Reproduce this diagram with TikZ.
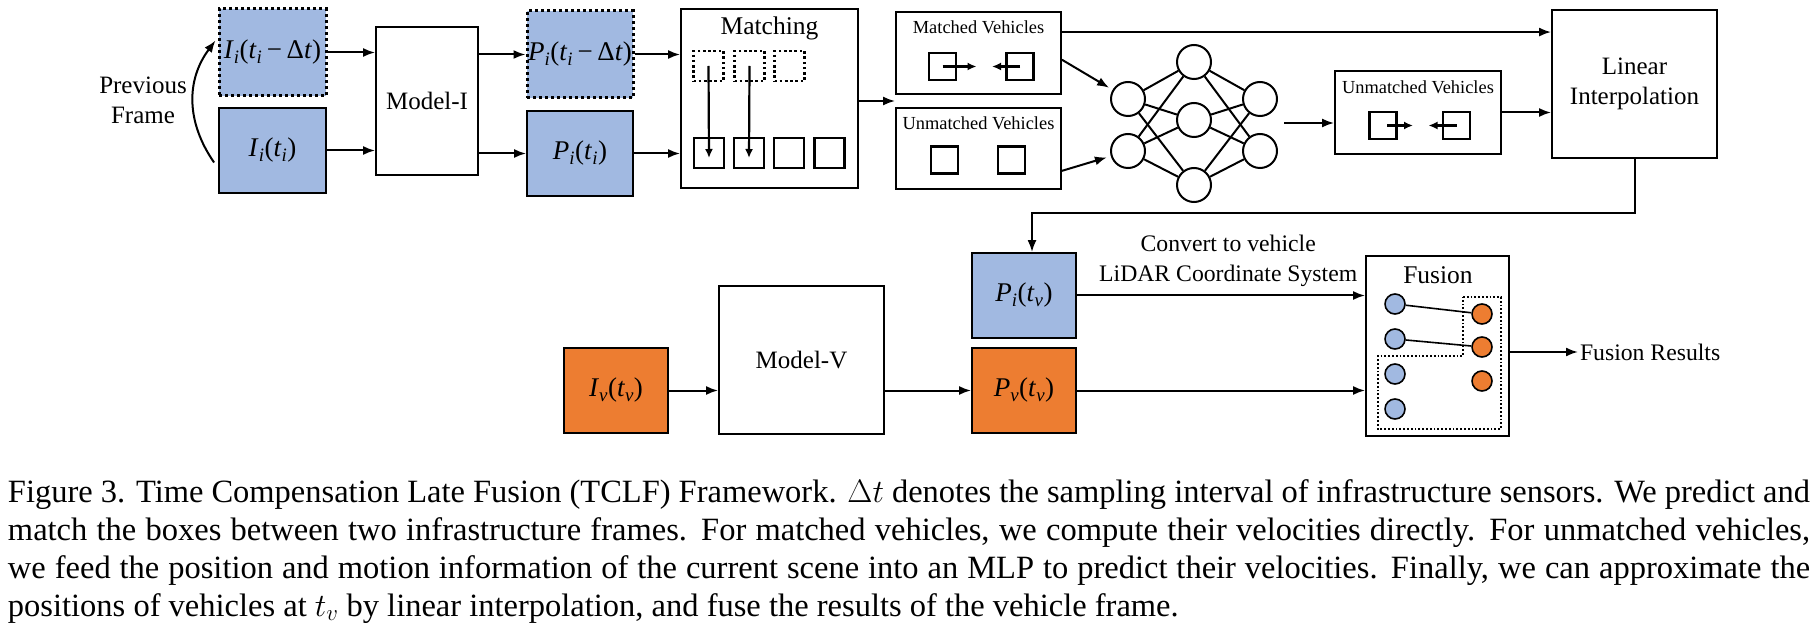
\documentclass[tikz,border=0pt]{standalone}
\usepackage{fix-cm}
\usepackage[no-math]{fontspec}
\setmainfont{Liberation Serif}
\usepackage{tikz}
\usetikzlibrary{positioning,arrows.meta,calc}
\usepackage{xcolor}
\definecolor{infblue}{RGB}{161,185,225}
\definecolor{vehorange}{RGB}{237,125,49}

\newcommand{\sub}[2]{\textit{#1}\textsubscript{\textit{#2}}}

\begin{document}
\begin{tikzpicture}[x=1pt,y=-1pt,line width=2pt,
		>={Latex[length=12pt,width=9pt]},
		box/.style={draw,line width=1.8pt,inner sep=0pt,align=center,font=\fontsize{25}{30}\selectfont},
		iblue/.style={box,fill=infblue,font=\fontsize{27}{30}\selectfont},
		vorange/.style={box,fill=vehorange,font=\fontsize{27}{30}\selectfont},
		prev/.style={line width=3pt,dash pattern=on 3pt off 3pt},
		title/.style={font=\fontsize{18.4}{22}\selectfont},
		bigtitle/.style={font=\fontsize{25.5}{30}\selectfont},
		obj/.style={draw,line width=2.5pt,minimum size=27pt,inner sep=0pt},
		ghost/.style={obj,dash pattern=on 2.6pt off 2.6pt},
		neuron/.style={circle,draw,line width=2pt,minimum size=34pt,inner sep=0pt},
		ipt/.style={circle,draw,line width=1.6pt,minimum size=20pt,inner sep=0pt,fill=infblue},
		vpt/.style={ipt,fill=vehorange},
		vec/.style={-{Latex[length=9pt,width=8pt]},line width=2.2pt},
		lbltext/.style={font=\fontsize{23.7}{30}\selectfont},
		captext/.style={inner sep=0pt,anchor=base west,font=\fontsize{32.5}{38}\selectfont}]
		\useasboundingbox (0,0) rectangle (1820,628);

		% infrastructure side
		\node[iblue,prev,minimum width=107pt,minimum height=87pt] (iprev) at (272.5,52.5) {\sub{I}{i}(\sub{t}{i}\,−\,Δ\textit{t})};
		\node[iblue,minimum width=107pt,minimum height=85pt] (icur) at (272.5,150.5) {\sub{I}{i}(\sub{t}{i})};
		\node[align=center,font=\fontsize{25}{30}\selectfont] (prevlbl) at (143,100) {Previous\\Frame};
		\draw[->] ([xshift=-4pt,yshift=-12pt]icur.west) .. controls (186,122) and (186,80) .. ([xshift=-2pt,yshift=12pt]iprev.west);
		\node[box,minimum width=102pt,minimum height=148pt] (modeli) at (427,101) {Model-I};
		\node[iblue,prev,minimum width=106pt,minimum height=87pt] (pprev) at (580,54.5) {\sub{P}{i}(\sub{t}{i}\,−\,Δ\textit{t})};
		\node[iblue,minimum width=106pt,minimum height=85pt] (pcur) at (580,153.5) {\sub{P}{i}(\sub{t}{i})};
		\draw[->] (iprev.east) -- (iprev.east -| modeli.west);
		\draw[->] (icur.east) -- (icur.east -| modeli.west);
		\draw[->] (modeli.east |- pprev.west) -- (pprev.west);
		\draw[->] (modeli.east |- pcur.west) -- (pcur.west);

		% matching
		\node[box,minimum width=177pt,minimum height=179pt] (match) at (769.5,98.5) {};
		\node[bigtitle] (matchT) at (769.5,28) {Matching};
		\node[ghost,minimum size=30pt] (mt1) at (708.5,66) {};
		\node[ghost,minimum size=30pt] (mt2) at (749.5,66) {};
		\node[ghost,minimum size=30pt] (mt3) at (789.5,66) {};
		\node[obj,minimum size=30pt] (mb1) at (709,153) {};
		\node[obj,minimum size=30pt] (mb2) at (749,153) {};
		\node[obj,minimum size=30pt] (mb3) at (789,153) {};
		\node[obj,minimum size=30pt] (mb4) at (829.5,153) {};
		\draw[vec] (mt1.center) -- ([yshift=-5pt]mb1.center);
		\draw[vec] (mt2.center) -- ([yshift=-5pt]mb2.center);
		\draw[->] (pprev.east) -- (pprev.east -| match.west);
		\draw[->] (pcur.east) -- (pcur.east -| match.west);

		% matched / unmatched
		\node[box,minimum width=165pt,minimum height=82pt] (matched) at (978.5,53) {};
		\node[title] (matchedT) at (978.5,27) {Matched Vehicles};
		\node[obj] (mv1) at (942.5,66.5) {};
		\node[obj] (mv2) at (1020,66.5) {};
		\draw[vec] (mv1.center) -- ([xshift=34pt]mv1.center);
		\draw[vec] (mv2.center) -- ([xshift=-28pt]mv2.center);
		\node[box,minimum width=165pt,minimum height=81pt] (unmatched) at (978.5,148.5) {};
		\node[title] (unmatchedT) at (978.5,123) {Unmatched Vehicles};
		\node[obj] (uv1) at (944.5,160) {};
		\node[obj] (uv2) at (1011.5,160) {};
		\coordinate (split) at ($(matched.south west)!0.5!(unmatched.north west)$);
		\draw[->] (match.east |- split) -- (split);

		% MLP
		\node[neuron] (in1) at (1128,99) {};
		\node[neuron] (in2) at (1128,151) {};
		\node[neuron] (hid1) at (1194,62) {};
		\node[neuron] (hid2) at (1194,120) {};
		\node[neuron] (hid3) at (1194,185) {};
		\node[neuron] (out1) at (1260,99) {};
		\node[neuron] (out2) at (1260,151) {};
		\foreach \a in {1,2} \foreach \b in {1,2,3} \draw (in\a) -- (hid\b);
		\foreach \a in {1,2,3} \foreach \b in {1,2} \draw (hid\a) -- (out\b);
		\draw[->,shorten >=4pt] ($(matched.north east)!0.58!(matched.south east)$) -- (in1);
		\draw[->,shorten >=4pt] ($(unmatched.north east)!0.77!(unmatched.south east)$) -- (in2);

		\node[box,minimum width=166pt,minimum height=83pt] (unmatched2) at (1418,112.5) {};
		\node[title] (unmatched2T) at (1418,87) {Unmatched Vehicles};
		\node[obj] (uw1) at (1383,125.5) {};
		\node[obj] (uw2) at (1456.5,125.5) {};
		\draw[vec] ([xshift=4pt]uw1.center) -- ([xshift=30pt]uw1.center);
		\draw[vec] (uw2.center) -- ([xshift=-28pt]uw2.center);
		\coordinate (nnout) at ($(out1.east)!0.5!(out2.east)+(6,-2)$);
		\draw[->] (nnout) -- (nnout -| unmatched2.west);

		% interpolation
		\node[box,minimum width=165pt,minimum height=148pt] (linear) at (1634.5,84) {Linear\\Interpolation};
		\coordinate (mtop) at ($(matched.north east)!0.25!(matched.south east)$);
		\draw[->] (mtop) -- (mtop -| linear.west);
		\draw[->] (unmatched2.east) -- (unmatched2.east -| linear.west);

		% vehicle side
		\node[vorange,minimum width=104pt,minimum height=85pt] (ivtv) at (616,390.5) {\sub{I}{v}(\sub{t}{v})};
		\node[box,minimum width=165pt,minimum height=148pt] (modelv) at (801.5,360) {Model-V};
		\node[iblue,minimum width=104pt,minimum height=85pt] (pitv) at (1024,295.5) {\sub{P}{i}(\sub{t}{v})};
		\node[vorange,minimum width=104pt,minimum height=85pt] (pvtv) at (1024,390.5) {\sub{P}{v}(\sub{t}{v})};
		\draw[->] (linear.south) -- ++(0,54) -| ([xshift=8pt]pitv.north);
		\draw[->] (ivtv.east) -- (ivtv.east -| modelv.west);
		\draw[->] (modelv.east |- pvtv.west) -- (pvtv.west);

		% fusion
		\node[box,minimum width=143pt,minimum height=180pt] (fusion) at (1437.5,346) {};
		\node[bigtitle] (fusionT) at (1438,275) {Fusion};
		\draw[line width=1.8pt,dotted] (1463,297) -- (1501,297) -- (1501,429) -- (1378,429) -- (1378,356) -- (1463,356) -- cycle;
		\node[ipt] (ib1) at (1395,304) {};
		\node[ipt] (ib2) at (1395,339) {};
		\node[ipt] (ib3) at (1395,374) {};
		\node[ipt] (ib4) at (1395,409) {};
		\node[vpt] (vo1) at (1482,314) {};
		\node[vpt] (vo2) at (1482,347) {};
		\node[vpt] (vo3) at (1482,381) {};
		\draw[line width=1.6pt] (ib1) -- (vo1);
		\draw[line width=1.6pt] (ib2) -- (vo2);
		\draw[->] (pitv.east) -- node[pos=0.525,above=8pt,inner sep=0pt,align=center,lbltext] (convlbl) {Convert to vehicle\\LiDAR Coordinate System} (pitv.east -| fusion.west);
		\draw[->] (pvtv.east) -- (pvtv.east -| fusion.west);
		\node[lbltext,anchor=west,inner sep=1pt] (results) at (1578,352) {Fusion Results};
		\draw[->] (fusion.east |- results.west) -- (results.west);

		% caption
		\node[captext] (cap1) at (7,502) {\hbox to 1802pt{Figure 3. Time Compensation Late Fusion (TCLF) Framework. $\Delta t$ denotes the sampling interval of infrastructure sensors. We predict and}};
		\node[captext] (cap2) at (7,540) {\hbox to 1802pt{match the boxes between two infrastructure frames. For matched vehicles, we compute their velocities directly. For unmatched vehicles,}};
		\node[captext] (cap3) at (7,578) {\hbox to 1802pt{we feed the position and motion information of the current scene into an MLP to predict their velocities. Finally, we can approximate the}};
		\node[captext] (cap4) at (7,616) {positions of vehicles at $t_v$ by linear interpolation, and fuse the results of the vehicle frame.};
	\end{tikzpicture}
\end{document}
